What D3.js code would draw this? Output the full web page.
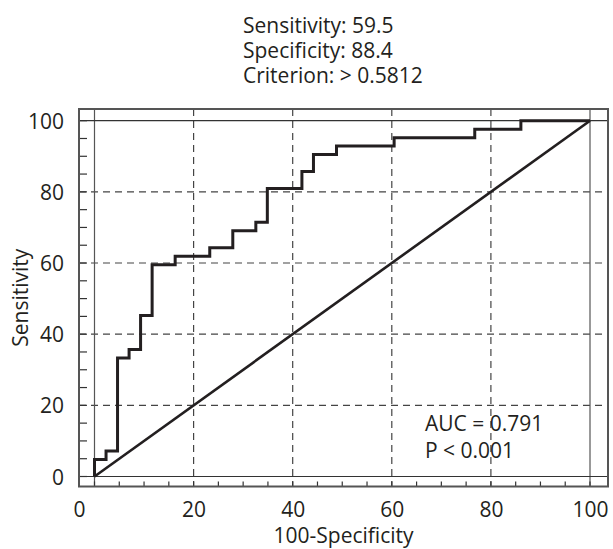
<!DOCTYPE html>
<html>
<head>
<meta charset="utf-8">
<script src="https://cdn.jsdelivr.net/npm/d3@7"></script>
<style>
  body { margin: 0; background: #fff; }
  text { font-family: "Open Sans", "Noto Sans", sans-serif; fill: #231f20; }
</style>
</head>
<body>
<svg id="chart_svg" width="613" height="549"></svg>
<script>
// ROC operating points (100-Specificity, Sensitivity), drawn as steps
const fpr = [0, 2.33, 4.65, 6.98, 9.30, 11.63, 16.28, 23.26, 27.91, 32.56, 34.88, 41.86, 44.19, 48.84, 60.47, 76.74, 86.05, 100];
const tpr = [0, 4.76, 7.14, 33.33, 35.71, 45.24, 59.52, 61.90, 64.29, 69.05, 71.43, 80.95, 85.71, 90.48, 92.86, 95.24, 97.62, 100];

const majorTicks = [0, 20, 40, 60, 80, 100];
const minorTicks = d3.range(0, 101, 5);
const infoLines = ["Sensitivity: 59.5", "Specificity: 88.4", "Criterion: > 0.5812"];
const statLines = ["AUC = 0.791", "P < 0.001"];

const svg = d3.select("#chart_svg");

const frame = { left: 79, right: 608, top: 109, bottom: 486.5 };

const xScale = d3.scaleLinear().domain([0, 100]).range([94.5, 590]);
const yScale = d3.scaleLinear().domain([0, 100]).range([476.5, 120.7]);

const ink = "#231f20";

// dashed grid
svg.append("g")
  .selectAll("line")
  .data(majorTicks.filter(d => d > 0 && d < 100))
  .enter()
  .append("line")
  .attr("x1", d => xScale(d)).attr("x2", d => xScale(d))
  .attr("y1", frame.top).attr("y2", frame.bottom)
  .attr("stroke", "#444").attr("stroke-width", 1.2)
  .attr("stroke-dasharray", "7,5");

svg.append("g")
  .selectAll("line")
  .data(majorTicks.filter(d => d > 0 && d < 100))
  .enter()
  .append("line")
  .attr("y1", d => yScale(d)).attr("y2", d => yScale(d))
  .attr("x1", frame.left).attr("x2", frame.right)
  .attr("stroke", "#444").attr("stroke-width", 1.2)
  .attr("stroke-dasharray", "7,5");

// solid lines at 0 and 100
svg.append("g")
  .selectAll("line")
  .data([0, 100])
  .enter()
  .append("line")
  .attr("x1", d => xScale(d)).attr("x2", d => xScale(d))
  .attr("y1", frame.top).attr("y2", frame.bottom)
  .attr("stroke", "#555").attr("stroke-width", 1.2);

svg.append("g")
  .selectAll("line")
  .data([0, 100])
  .enter()
  .append("line")
  .attr("y1", d => yScale(d)).attr("y2", d => yScale(d))
  .attr("x1", frame.left).attr("x2", frame.right)
  .attr("stroke", "#333").attr("stroke-width", 1.2);

// minor ticks on left and bottom edges
svg.append("g")
  .selectAll("line")
  .data(minorTicks)
  .enter()
  .append("line")
  .attr("x1", frame.left).attr("x2", frame.left + 8)
  .attr("y1", d => yScale(d)).attr("y2", d => yScale(d))
  .attr("stroke", "#333").attr("stroke-width", 1.2);

svg.append("g")
  .selectAll("line")
  .data(minorTicks)
  .enter()
  .append("line")
  .attr("x1", d => xScale(d)).attr("x2", d => xScale(d))
  .attr("y1", frame.bottom).attr("y2", frame.bottom - 5)
  .attr("stroke", "#333").attr("stroke-width", 1.2);

// frame
svg.append("rect")
  .attr("x", frame.left).attr("y", frame.top)
  .attr("width", frame.right - frame.left)
  .attr("height", frame.bottom - frame.top)
  .attr("fill", "none").attr("stroke", "#555").attr("stroke-width", 2);

// diagonal reference line
svg.append("line")
  .attr("x1", xScale(0)).attr("y1", yScale(0))
  .attr("x2", xScale(100)).attr("y2", yScale(100))
  .attr("stroke", ink).attr("stroke-width", 2.6);

// ROC curve
const rocLine = d3.line()
  .x((d, i) => xScale(fpr[i]))
  .y((d, i) => yScale(tpr[i]))
  .curve(d3.curveStepBefore);

svg.append("path")
  .datum(fpr)
  .attr("fill", "none")
  .attr("stroke", ink)
  .attr("stroke-width", 3)
  .attr("stroke-linejoin", "miter")
  .attr("d", rocLine);

// axes (labels only)
let x_axis = d3.axisBottom(xScale).tickValues(majorTicks).tickSize(0).tickPadding(0);
let g_x = svg.append("g")
  .attr("transform", "translate(0,517)")
  .call(x_axis);
g_x.select(".domain").remove();
g_x.selectAll("text")
  .attr("y", 0).attr("dy", 0)
  .style("font-size", "21px")
  .style("font-family", "'Open Sans', sans-serif")
  .attr("fill", ink);
// "0" sits under the frame edge
g_x.selectAll(".tick").filter(d => d === 0).select("text")
  .attr("x", frame.left - xScale(0));

let y_axis = d3.axisLeft(yScale).tickValues(majorTicks).tickSize(0).tickPadding(0);
let g_y = svg.append("g")
  .attr("transform", "translate(64,0)")
  .call(y_axis);
g_y.select(".domain").remove();
g_y.selectAll("text")
  .attr("x", 0).attr("dy", "0.36em")
  .style("font-size", "21px")
  .style("font-family", "'Open Sans', sans-serif")
  .attr("fill", ink);

// axis titles
svg.append("text")
  .attr("x", (frame.left + frame.right) / 2)
  .attr("y", 543)
  .attr("text-anchor", "middle")
  .style("font-size", "21px")
  .text("100-Specificity");

svg.append("text")
  .attr("transform", "translate(28," + ((frame.top + frame.bottom) / 2) + ") rotate(-90)")
  .attr("text-anchor", "middle")
  .style("font-size", "21px")
  .text("Sensitivity");

// criterion info
svg.append("g")
  .selectAll("text")
  .data(infoLines)
  .enter()
  .append("text")
  .attr("x", 243)
  .attr("y", (d, i) => 33 + i * 24.8)
  .style("font-size", "21px")
  .text(d => d);

// AUC info
svg.append("g")
  .selectAll("text")
  .data(statLines)
  .enter()
  .append("text")
  .attr("x", 425)
  .attr("y", (d, i) => 431 + i * 27)
  .style("font-size", "21px")
  .text(d => d);
</script>
</body>
</html>
